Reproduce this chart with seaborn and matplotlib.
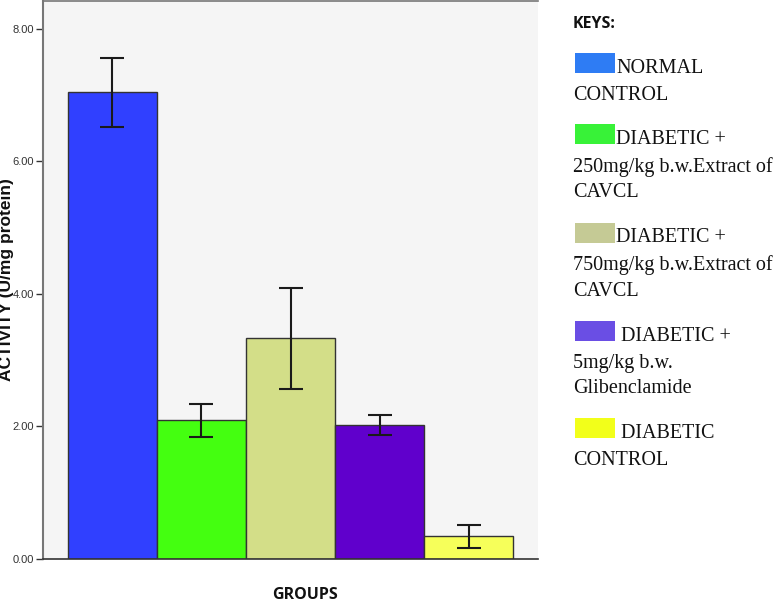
import matplotlib
matplotlib.use("Agg")
import matplotlib.pyplot as plt
import seaborn as sns
import pandas as pd
from matplotlib.patches import Rectangle

groups = ["NORMAL CONTROL", "DIABETIC + 250mg/kg", "DIABETIC + 750mg/kg",
          "DIABETIC + 5mg/kg Glibenclamide", "DIABETIC CONTROL"]
means = [7.04, 2.09, 3.33, 2.02, 0.34]
errors = [0.52, 0.25, 0.76, 0.15, 0.17]
bar_colors = ["#3040FF", "#44FF10", "#D3DE88", "#6000CC", "#F6FF5A"]
key_colors = ["#2E7CF4", "#38F238", "#C5CA95", "#6A4EE4", "#F2FF1A"]
key_lines = [
    ["NORMAL", "CONTROL"],
    ["DIABETIC +", "250mg/kg b.w.Extract of", "CAVCL"],
    ["DIABETIC +", "750mg/kg b.w.Extract of", "CAVCL"],
    [" DIABETIC +", "5mg/kg b.w.", "Glibenclamide"],
    [" DIABETIC", "CONTROL"],
]
yticks = [0, 2, 4, 6, 8]
ytick_labels = ["0.00", "2.00", "4.00", "6.00", "8.00"]

sns.set_style("white")
W, H = 780, 605
fig = plt.figure(figsize=(W / 100, H / 100), dpi=100)
ax = fig.add_axes([43 / W, (H - 559) / H, (538 - 43) / W, (559 - 1) / H])
ax.set_facecolor("#F5F5F5")

df = pd.DataFrame({"group": groups, "mean": means})
sns.barplot(data=df, x="group", y="mean", hue="group", palette=bar_colors,
            legend=False, width=1.0, edgecolor="#333333", linewidth=1.0,
            saturation=1, ax=ax)
ax.errorbar(range(len(means)), means, yerr=errors, fmt="none",
            ecolor="#1a1a1a", elinewidth=1.5, capsize=8.5, capthick=1.5)

ax.set_xlim(-0.78, len(means) - 1 + 0.78)
ax.set_ylim(0, 8.42)
ax.set_yticks(yticks)
ax.set_yticklabels(ytick_labels, family=["Liberation Sans", "DejaVu Sans"],
                   fontsize=8, color="#333333")
ax.set_xticks([])
ax.tick_params(axis="y", direction="out", length=5, width=1, color="#333333",
               pad=1.5, left=True)

ax.spines["right"].set_visible(False)
ax.spines["left"].set_color("#777777")
ax.spines["left"].set_linewidth(1.5)
ax.spines["bottom"].set_color("#333333")
ax.spines["bottom"].set_linewidth(1.2)
ax.spines["top"].set_color("#777777")
ax.spines["top"].set_linewidth(1.2)

ax.set_xlabel("")
ax.set_ylabel("ACTIVITY (U/mg protein)", family=["Liberation Sans", "DejaVu Sans"],
              fontweight="bold", fontsize=12.5, color="#111111")
ax.yaxis.set_label_coords(-(43 - 14.5) / (538 - 43), 0.5)

fig.text(305 / W, 1 - 599 / H, "GROUPS", family=["Open Sans", "DejaVu Sans"],
         fontweight="bold", fontsize=11.5, ha="center", va="baseline", color="#111111")

fig.text(573 / W, 1 - 28 / H, "KEYS:", family=["Open Sans", "DejaVu Sans"],
         fontweight="bold", fontsize=11.5, ha="left", va="baseline", color="#111111")

patch_tops = [53, 124, 223, 321, 418]
baselines = [[73, 100], [144, 172, 197], [242, 270, 296], [341, 368, 393], [438, 465]]
for col, top, lines, bls in zip(key_colors, patch_tops, key_lines, baselines):
    fig.patches.append(Rectangle((575 / W, 1 - (top + 20) / H), 40 / W, 20 / H,
                                 transform=fig.transFigure, facecolor=col,
                                 edgecolor="none"))
    for i, (txt, bl) in enumerate(zip(lines, bls)):
        x = 616 if i == 0 else 573
        fig.text(x / W, 1 - bl / H, txt, family=["Liberation Serif", "DejaVu Serif"],
                 fontsize=14.5, ha="left", va="baseline", color="#111111")

fig.savefig("out.png", dpi=100)
